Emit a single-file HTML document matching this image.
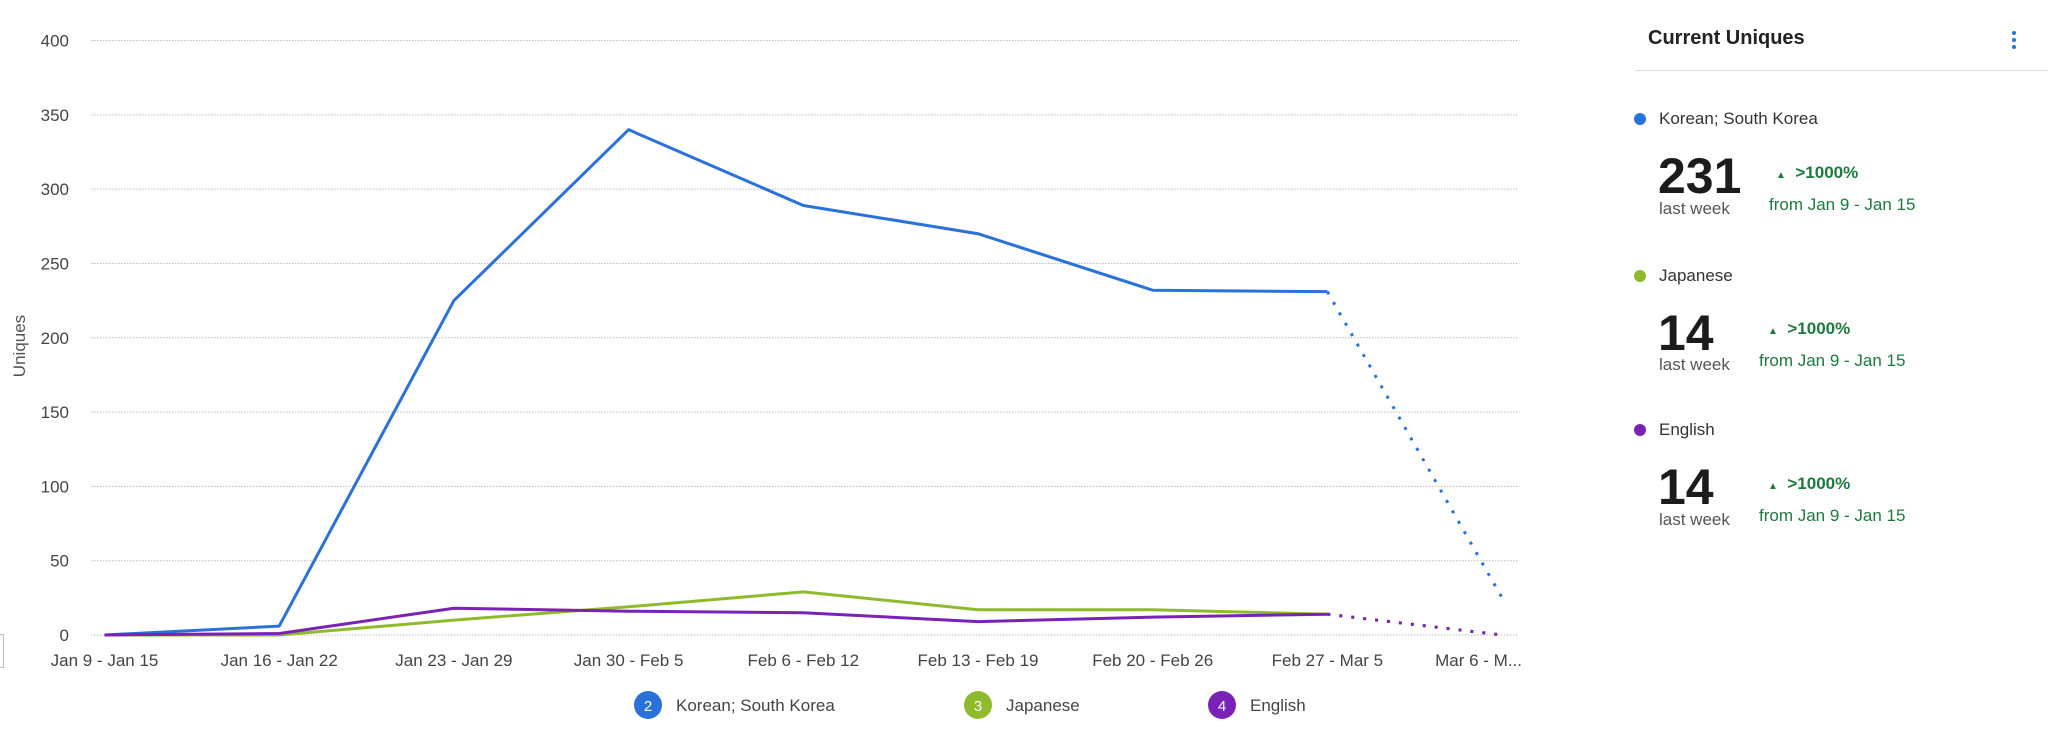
<!DOCTYPE html>
<html><head><meta charset="utf-8">
<style>
body{margin:0;width:2048px;height:738px;background:#fff;font-family:"Liberation Sans",sans-serif;overflow:hidden;position:relative}
.abs{position:absolute;white-space:nowrap}
.lbl{font-size:17px;color:#333}
.big{font-size:50px;font-weight:bold;color:#1c1c1c;line-height:1}
.lw{font-size:17px;color:#555}
.pct{font-size:17px;font-weight:bold;color:#1e7a3c}
.from{font-size:17px;color:#1e7a3c}
.dot{width:12px;height:12px;border-radius:50%}
</style></head><body>
<svg id="chart" width="1560" height="738" style="position:absolute;left:0;top:0" font-family="Liberation Sans, sans-serif"></svg>
<div class="abs" style="left:-4px;top:634px;width:6px;height:32px;border:1px solid #bbb"></div>

<div class="abs" style="left:1648px;top:27px;font-size:20px;font-weight:bold;color:#222">Current Uniques</div>
<div class="abs" style="left:2011px;top:30px;width:6px;height:22px;font-size:0">
<div style="width:4px;height:4px;border-radius:50%;background:#2a72d9;margin:1px auto 3px"></div><div style="width:4px;height:4px;border-radius:50%;background:#2a72d9;margin:0 auto 3px"></div><div style="width:4px;height:4px;border-radius:50%;background:#2a72d9;margin:0 auto"></div></div>
<div class="abs" style="left:1635px;top:70px;width:413px;height:1px;background:#ddd"></div>

<div>
<div class="abs dot" style="left:1634px;top:113px;background:#2a72d9"></div>
<div class="abs lbl" style="left:1659px;top:109px">Korean; South Korea</div>
<div class="abs big" style="left:1658px;top:151px">231</div>
<div class="abs lw" style="left:1659px;top:199px">last week</div>
<div class="abs pct" style="left:1776px;top:163px"><span style="font-size:10px">▲</span>&nbsp; &gt;1000%</div>
<div class="abs from" style="left:1769px;top:195px">from Jan 9 - Jan 15</div>
</div>
<div>
<div class="abs dot" style="left:1634px;top:270px;background:#8fba2e"></div>
<div class="abs lbl" style="left:1659px;top:266px">Japanese</div>
<div class="abs big" style="left:1658px;top:308px">14</div>
<div class="abs lw" style="left:1659px;top:355px">last week</div>
<div class="abs pct" style="left:1768px;top:319px"><span style="font-size:10px">▲</span>&nbsp; &gt;1000%</div>
<div class="abs from" style="left:1759px;top:351px">from Jan 9 - Jan 15</div>
</div>
<div>
<div class="abs dot" style="left:1634px;top:424px;background:#7a22b5"></div>
<div class="abs lbl" style="left:1659px;top:420px">English</div>
<div class="abs big" style="left:1658px;top:462px">14</div>
<div class="abs lw" style="left:1659px;top:510px">last week</div>
<div class="abs pct" style="left:1768px;top:474px"><span style="font-size:10px">▲</span>&nbsp; &gt;1000%</div>
<div class="abs from" style="left:1759px;top:506px">from Jan 9 - Jan 15</div>
</div>

<script>
const categories=["Jan 9 - Jan 15","Jan 16 - Jan 22","Jan 23 - Jan 29","Jan 30 - Feb 5","Feb 6 - Feb 12","Feb 13 - Feb 19","Feb 20 - Feb 26","Feb 27 - Mar 5","Mar 6 - M..."];
const korean=[0,6,225,340,289,270,232,231,25];
const japanese=[0,0,10,19,29,17,17,14,0];
const english=[0,1,18,16,15,9,12,14,0];
const yTicks=[0,50,100,150,200,250,300,350,400];
const seriesNames=["Korean; South Korea","Japanese","English"];
const seriesNums=["2","3","4"];

const NS="http://www.w3.org/2000/svg";
const svg=document.getElementById('chart');
const x0=104.5,xStep=174.7,yBase=635,yTop=40.5,yMax=400;
const X=i=>x0+i*xStep;
const Y=v=>yBase-(v/yMax)*(yBase-yTop);
function mk(t,a){const e=document.createElementNS(NS,t);for(const k in a)e.setAttribute(k,a[k]);svg.appendChild(e);return e;}
yTicks.forEach(t=>{
 const l=mk('line',{x1:91,x2:1519,y1:Y(t),y2:Y(t),stroke:'#bbb','stroke-width':1,'stroke-dasharray':'1.5,1.5'});
 
 
 const tx=mk('text',{x:69,y:Y(t)+6,'text-anchor':'end','font-size':17,fill:'#444'});
 tx.textContent=t;
 
 
});
const yt=mk('text',{transform:'translate(25,346) rotate(-90)','text-anchor':'middle','font-size':17,fill:'#555'});
yt.textContent='Uniques';


categories.forEach((c,i)=>{
 const last=i===categories.length-1;
 const t=mk('text',{x:last?1522:X(i),y:666,'text-anchor':last?'end':'middle','font-size':17,fill:'#444'});
 t.textContent=c;
 
 
});
const colors=['#2a72d9','#8fba2e','#7a22b5'];
const keys=['korean','japanese','english'];
[korean,japanese,english].forEach((d,s)=>{
 const n=d.length;
 const pts=d.slice(0,n-1).map((v,i)=>X(i)+','+Y(v)).join(' ');
 const p=mk('polyline',{points:pts,fill:'none',stroke:colors[s],'stroke-width':3,'stroke-linejoin':'round'});
 
 
 const dl=mk('line',{x1:X(n-2),y1:Y(d[n-2]),x2:X(n-1),y2:Y(d[n-1]),stroke:colors[s],'stroke-width':3,'stroke-dasharray':'3,9'});
 
 
});
const legX=[648,978,1222];
seriesNames.forEach((nm,s)=>{
 const c=mk('circle',{cx:legX[s],cy:705,r:14,fill:colors[s]});
 
 
 const n=mk('text',{x:legX[s],y:711,'text-anchor':'middle','font-size':15,fill:'#fff'});
 n.textContent=seriesNums[s];
 
 
 const t=mk('text',{x:legX[s]+28,y:711,'font-size':17,fill:'#444'});
 t.textContent=nm;
 
 
});
</script>
</body></html>
